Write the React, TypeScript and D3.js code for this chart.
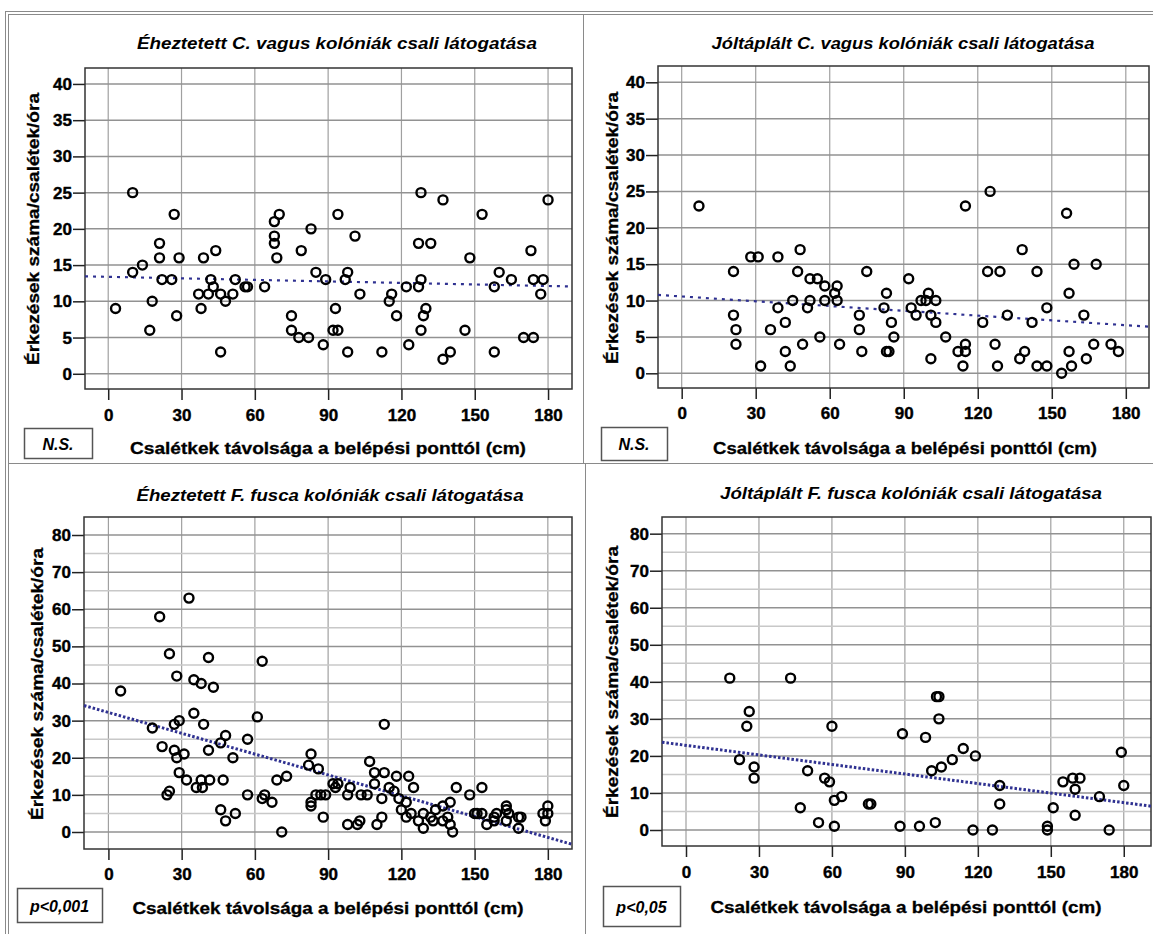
import React, { useRef, useEffect } from 'react';
import * as d3 from 'd3';

// distance of bait from the nest entrance (cm) / arrivals per bait per hour
const hungryVagusX = [3, 10, 10, 14, 17, 18, 21, 21, 22, 26, 27, 28, 29, 37, 38, 39, 41, 42, 43, 44, 46, 46, 48, 51, 52, 56, 57, 64, 68, 68, 68, 69, 70, 75, 75, 78, 79, 82, 83, 85, 88, 89, 92, 93, 94, 94, 97, 98, 98, 101, 103, 112, 115, 116, 118, 122, 123, 127, 127, 128, 128, 128, 129, 130, 132, 137, 137, 140, 146, 148, 153, 158, 158, 160, 165, 170, 173, 174, 174, 177, 178, 180];
const hungryVagusY = [9, 25, 14, 15, 6, 10, 18, 16, 13, 13, 22, 8, 16, 11, 9, 16, 11, 13, 12, 17, 3, 11, 10, 11, 13, 12, 12, 12, 21, 19, 18, 16, 22, 8, 6, 5, 17, 5, 20, 14, 4, 13, 6, 9, 6, 22, 13, 14, 3, 19, 11, 3, 10, 11, 8, 12, 4, 18, 12, 25, 13, 6, 8, 9, 18, 2, 24, 3, 6, 16, 22, 12, 3, 14, 13, 5, 17, 5, 13, 11, 13, 24];

const fedVagusX = [7, 21, 21, 22, 22, 28, 31, 32, 36, 39, 39, 42, 42, 44, 45, 47, 48, 49, 51, 52, 52, 55, 56, 58, 58, 62, 63, 63, 64, 72, 72, 73, 75, 82, 83, 83, 84, 85, 86, 92, 93, 95, 97, 99, 100, 101, 101, 103, 103, 107, 112, 114, 115, 115, 115, 122, 124, 125, 127, 128, 129, 132, 137, 138, 139, 142, 144, 144, 148, 148, 154, 156, 157, 157, 158, 159, 163, 164, 167, 168, 174, 177];
const fedVagusY = [23, 14, 8, 6, 4, 16, 16, 1, 6, 16, 9, 3, 7, 1, 10, 14, 17, 4, 9, 13, 10, 13, 5, 12, 10, 11, 12, 10, 4, 8, 6, 3, 14, 9, 11, 3, 3, 7, 5, 13, 9, 8, 10, 10, 11, 8, 2, 10, 7, 5, 3, 1, 23, 4, 3, 7, 14, 25, 4, 1, 14, 8, 2, 17, 3, 7, 14, 1, 1, 9, 0, 22, 11, 3, 1, 15, 8, 2, 4, 15, 4, 3];

const hungryFuscaX = [5, 18, 21, 22, 25, 24, 25, 27, 27, 28, 28, 29, 29, 31, 32, 33, 35, 35, 36, 38, 38, 38.5, 39, 41, 41, 41.5, 43, 46, 46, 47, 48, 48, 51, 52, 57, 57, 61, 63, 63, 64, 67, 69, 71, 73, 82, 83, 83, 83, 85, 86, 87, 88, 89, 92, 93, 94, 98, 98, 99, 102, 103, 103.5, 106, 107, 109, 109, 110, 112, 112, 113, 113, 115, 117, 118, 119, 120, 122, 122, 123, 124, 125, 127, 129, 129, 132, 133, 134, 137, 137, 139, 140, 140, 141, 142.5, 148, 150, 151, 153, 153, 155, 158, 158, 159, 163, 163, 163, 164, 168, 168, 169, 178, 179, 180, 180];
const hungryFuscaY = [38, 28, 58, 23, 48, 10, 11, 29, 22, 20, 42, 30, 16, 21, 14, 63, 41, 32, 12, 40, 14, 12, 29, 47, 22, 14, 39, 24, 6, 14, 26, 3, 20, 5, 25, 10, 31, 46, 9, 10, 8, 14, 0, 15, 18, 21, 8, 7, 10, 17, 10, 4, 10, 13, 12, 13, 10, 2, 12, 2, 3, 10, 10, 19, 16, 13, 2, 9, 4, 29, 16, 12, 11, 15, 9, 6, 8, 4, 15, 5, 12, 3, 5, 1, 4, 3, 6, 7, 3, 4, 8, 2, 0, 12, 10, 5, 5, 12, 5, 2, 3, 4, 5, 7, 6, 3, 5, 4, 1, 4, 5, 3, 7, 5];

const fedFuscaX = [18, 22, 25, 26, 28, 28, 43, 47, 50, 54.5, 57, 59, 60, 61, 61, 64, 75, 76, 88, 89, 96, 98.5, 101, 102.5, 103, 104, 104, 105, 109.5, 114, 118, 119, 126, 129, 129, 148.6, 148.6, 151, 155, 159, 160, 160, 162, 170, 174, 179, 180];
const fedFuscaY = [41, 19, 28, 32, 17, 14, 41, 6, 16, 2, 14, 13, 28, 8, 1, 9, 7, 7, 1, 26, 1, 25, 16, 2, 36, 36, 30, 17, 19, 22, 0, 20, 0, 12, 7, 1, 0, 6, 13, 14, 11, 4, 14, 9, 0, 21, 12];

// fitted regression lines: [intercept, slope]
const hungryVagusFit = [13.38, -0.007];
const fedVagusFit = [10.56, -0.0219];
const hungryFuscaFit = [32.2, -0.187];
const fedFuscaFit = [22.85, -0.0859];

const titles = [
  'Éheztetett C. vagus kolóniák csali látogatása',
  'Jóltáplált C. vagus kolóniák csali látogatása',
  'Éheztetett F. fusca kolóniák csali látogatása',
  'Jóltáplált F. fusca kolóniák csali látogatása',
];
const statLabels = ['N.S.', 'N.S.', 'p<0,001', 'p<0,05'];
const xTicks = [0, 30, 60, 90, 120, 150, 180];
const yTicksSmall = [0, 5, 10, 15, 20, 25, 30, 35, 40];
const yTicksLarge = [0, 10, 20, 30, 40, 50, 60, 70, 80];
const yMinorLarge = [5, 15, 25, 35, 45, 55, 65, 75];
const xLabel = 'Csalétkek távolsága a belépési ponttól (cm)';
const yLabel = 'Érkezések száma/csalétek/óra';

const FONT = '"Liberation Sans", Arial, sans-serif';

const panels = [
  {
    xs: hungryVagusX, ys: hungryVagusY, fit: hungryVagusFit, title: titles[0], stat: statLabels[0],
    box: { left: 85, right: 572, top: 68, bottom: 389 }, xDom: [-9.5, 189.8], yDom: [-2.1, 42.2],
    yTicks: yTicksSmall, yMinor: [], titleX: 337, titleY: 43, titleW: 400,
    statBox: [24, 428, 68, 30], yLabX: 33, yLabY: 229, xLabX: 328, xLabY: 448, xLabW: 396, tickY: 415, dense: false,
  },
  {
    xs: fedVagusX, ys: fedVagusY, fit: fedVagusFit, title: titles[1], stat: statLabels[1],
    box: { left: 658, right: 1149, top: 66, bottom: 388 }, xDom: [-9.6, 189.4], yDom: [-2.02, 42.24],
    yTicks: yTicksSmall, yMinor: [], titleX: 903, titleY: 43, titleW: 383,
    statBox: [601, 427, 66, 33], yLabX: 612, yLabY: 228, xLabX: 905, xLabY: 448, xLabW: 384, tickY: 413, dense: false,
  },
  {
    xs: hungryFuscaX, ys: hungryFuscaY, fit: hungryFuscaFit, title: titles[2], stat: statLabels[2],
    box: { left: 84, right: 572, top: 517, bottom: 849 }, xDom: [-10, 189.9], yDom: [-4.58, 84.85],
    yTicks: yTicksLarge, yMinor: yMinorLarge, titleX: 330, titleY: 495, titleW: 387,
    statBox: [17, 888, 85, 34], yLabX: 37, yLabY: 684, xLabX: 328, xLabY: 908, xLabW: 391, tickY: 874, dense: true,
  },
  {
    xs: fedFuscaX, ys: fedFuscaY, fit: fedFuscaFit, title: titles[3], stat: statLabels[3],
    box: { left: 662, right: 1151, top: 517, bottom: 846 }, xDom: [-9.87, 191.2], yDom: [-4.32, 84.5],
    yTicks: yTicksLarge, yMinor: yMinorLarge, titleX: 911, titleY: 493, titleW: 382,
    statBox: [603, 886, 77, 40], yLabX: 612, yLabY: 682, xLabX: 906, xLabY: 907, xLabW: 391, tickY: 872, dense: true,
  },
];

const App = () => {
  const svgRef = useRef(null);

  useEffect(() => {
    document.body.style.margin = '0';
    const svg = d3.select(svgRef.current);
    svg.selectAll('*').remove();

    svg.append('rect').attr('width', 1153).attr('height', 934).attr('fill', '#fff');

    // outer frame and dividers
    const frame = svg.append('g').attr('stroke', '#8a8a8a').attr('fill', 'none');
    frame.append('line').attr('x1', 5).attr('x2', 1153).attr('y1', 11.5).attr('y2', 11.5);
    frame.append('line').attr('x1', 8).attr('x2', 1153).attr('y1', 14.5).attr('y2', 14.5);
    frame.append('line').attr('x1', 5.5).attr('x2', 5.5).attr('y1', 11).attr('y2', 934);
    frame.append('line').attr('x1', 8.5).attr('x2', 8.5).attr('y1', 14).attr('y2', 934);
    frame.append('line').attr('x1', 8).attr('x2', 1153).attr('y1', 463.5).attr('y2', 463.5);
    frame.append('line').attr('x1', 583.5).attr('x2', 583.5).attr('y1', 14).attr('y2', 463);
    frame.append('line').attr('x1', 585.5).attr('x2', 585.5).attr('y1', 464).attr('y2', 934);

    panels.forEach(p => {
      const { left, right, top, bottom } = p.box;
      const x = d3.scaleLinear().domain(p.xDom).range([left, right]);
      const y = d3.scaleLinear().domain(p.yDom).range([bottom, top]);
      const g = svg.append('g');

      // grid
      g.selectAll('.vgrid').data(xTicks).enter().append('line')
        .attr('x1', d => x(d)).attr('x2', d => x(d)).attr('y1', top).attr('y2', bottom)
        .attr('stroke', '#a0a0a0').attr('stroke-width', 1.2);
      g.selectAll('.mgrid').data(p.yMinor).enter().append('line')
        .attr('x1', left).attr('x2', right).attr('y1', d => y(d)).attr('y2', d => y(d))
        .attr('stroke', '#c8c8c8').attr('stroke-width', 1.5);
      g.selectAll('.hgrid').data(p.yTicks).enter().append('line')
        .attr('x1', left).attr('x2', right).attr('y1', d => y(d)).attr('y2', d => y(d))
        .attr('stroke', '#929292').attr('stroke-width', 1.5);

      // axes
      const yAxis = d3.axisLeft(y).tickValues(p.yTicks).tickSize(12).tickSizeOuter(0).tickPadding(1);
      const ya = g.append('g').attr('transform', `translate(${left},0)`).call(yAxis);
      ya.select('.domain').remove();
      ya.selectAll('line').attr('stroke', '#222').attr('stroke-width', 1.5);
      ya.selectAll('text').attr('font-family', FONT).attr('font-size', 17).attr('font-weight', 'bold').attr('fill', '#000')
        .attr('stroke', '#000').attr('stroke-width', 0.4);

      const xAxis = d3.axisBottom(x).tickValues(xTicks).tickSize(11).tickSizeOuter(0).tickFormat(d3.format('d'));
      const xa = g.append('g').attr('transform', `translate(0,${bottom})`).call(xAxis);
      xa.select('.domain').remove();
      xa.selectAll('line').attr('stroke', '#222').attr('stroke-width', 1.5);
      xa.selectAll('text').attr('font-family', FONT).attr('font-size', 17).attr('font-weight', 'bold').attr('fill', '#000')
        .attr('stroke', '#000').attr('stroke-width', 0.4)
        .attr('y', p.tickY - bottom).attr('dy', '0.35em');

      // plot frame
      g.append('rect').attr('x', left).attr('y', top).attr('width', right - left).attr('height', bottom - top)
        .attr('fill', 'none').attr('stroke', '#333').attr('stroke-width', 1.5);

      // regression line
      const [b0, b1] = p.fit;
      const line = d3.line().x(d => x(d)).y(d => y(b0 + b1 * d));
      g.append('path').datum(p.xDom).attr('d', line)
        .attr('fill', 'none').attr('stroke', '#2f3191')
        .attr('stroke-width', p.dense ? 3 : 2.2)
        .attr('stroke-dasharray', p.dense ? '2.5,2' : '3,5');

      // points
      g.selectAll('.pt').data(p.xs.map((v, i) => [v, p.ys[i]])).enter().append('circle')
        .attr('cx', d => x(d[0])).attr('cy', d => y(d[1])).attr('r', 4.5)
        .attr('fill', 'none').attr('stroke', '#000').attr('stroke-width', 2.4);

      // titles and labels
      g.append('text').attr('x', p.titleX).attr('y', p.titleY).attr('text-anchor', 'middle').attr('dy', '0.35em')
        .attr('font-family', FONT).attr('font-size', 17).attr('font-weight', 'bold').attr('font-style', 'italic')
        .attr('textLength', p.titleW).attr('lengthAdjust', 'spacingAndGlyphs')
        .text(p.title);
      g.append('text').attr('x', p.xLabX).attr('y', p.xLabY).attr('text-anchor', 'middle').attr('dy', '0.35em')
        .attr('font-family', FONT).attr('font-size', 17).attr('font-weight', 'bold')
        .attr('stroke', '#000').attr('stroke-width', 0.3)
        .attr('textLength', p.xLabW).attr('lengthAdjust', 'spacingAndGlyphs')
        .text(xLabel);
      g.append('text').attr('transform', `translate(${p.yLabX},${p.yLabY}) rotate(-90)`)
        .attr('text-anchor', 'middle').attr('dy', '0.35em')
        .attr('font-family', FONT).attr('font-size', 17).attr('font-weight', 'bold')
        .attr('stroke', '#000').attr('stroke-width', 0.3)
        .attr('textLength', 272).attr('lengthAdjust', 'spacingAndGlyphs')
        .text(yLabel);

      const [sx, sy, sw, sh] = p.statBox;
      g.append('rect').attr('x', sx + 0.5).attr('y', sy + 0.5).attr('width', sw).attr('height', sh)
        .attr('fill', '#fff').attr('stroke', '#555').attr('stroke-width', 1.5);
      g.append('text').attr('x', sx + sw / 2).attr('y', sy + sh / 2 + 1).attr('text-anchor', 'middle').attr('dy', '0.35em')
        .attr('font-family', FONT).attr('font-size', 16).attr('font-weight', 'bold').attr('font-style', 'italic')
        .text(p.stat);
    });
  }, []);

  return <svg ref={svgRef} width={1153} height={934} style={{ display: 'block' }} />;
};

export default App;
